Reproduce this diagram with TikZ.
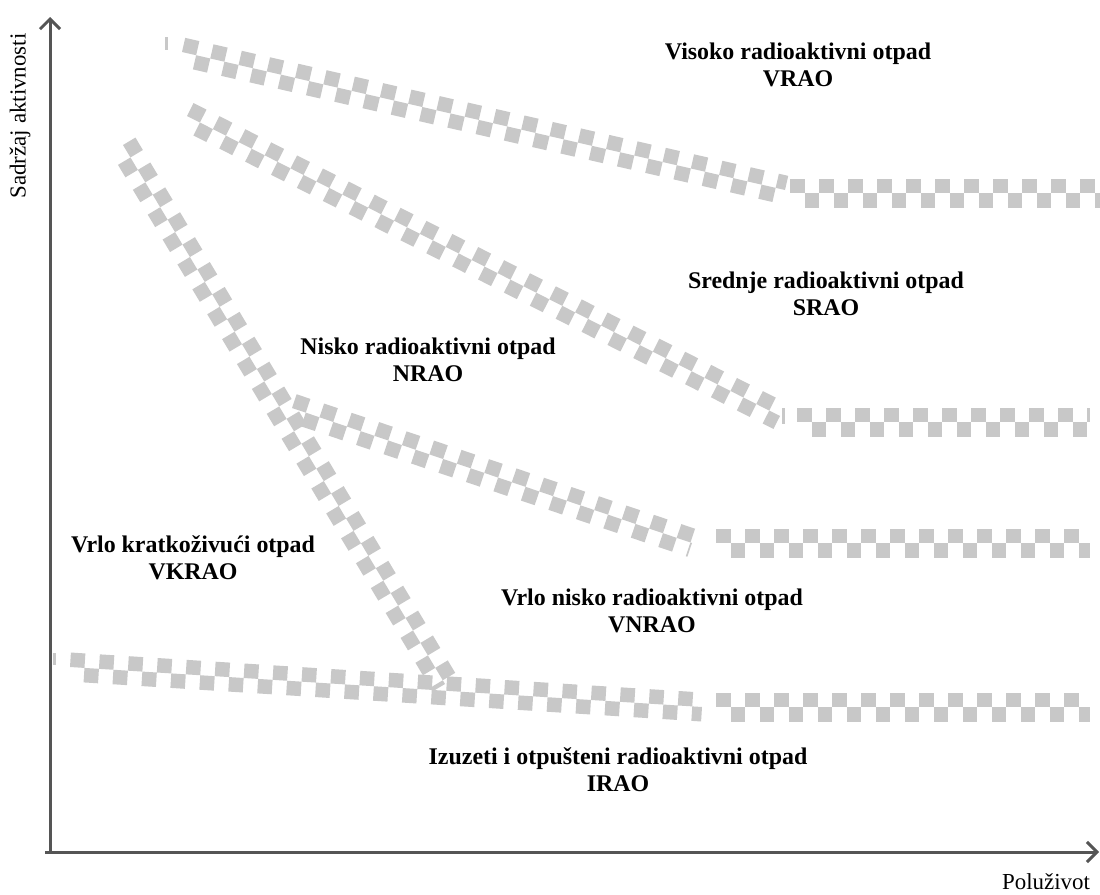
\documentclass[tikz,border=0pt]{standalone}
\usepackage{fontspec}
\setmainfont{Liberation Serif}
\usetikzlibrary{calc,arrows.meta}
\definecolor{bandgrey}{HTML}{C8C8C8}
\definecolor{axisgrey}{HTML}{555555}
\newcommand\cband[2]{%
  \draw[bandrow] ($(#1)!7.25bp!90:(#2)$) -- ($(#2)!7.25bp!-90:(#1)$);
  \draw[bandrow,dash phase=14.5bp] ($(#1)!7.25bp!-90:(#2)$) -- ($(#2)!7.25bp!90:(#1)$);}
\begin{document}
\begin{tikzpicture}[x=1bp,y=-1bp,
  bandrow/.style={draw=bandgrey,line width=14.5bp,dash pattern=on 14.5bp off 14.5bp},
  stub/.style={fill=bandgrey,draw=none},
  axis/.style={draw=axisgrey,line width=3bp,-{Straight Barb[length=10bp,width=20bp]}},
  lbl/.style={font=\fontsize{24}{27}\selectfont\bfseries,align=center,inner sep=0pt},
  axlbl/.style={font=\fontsize{23}{26}\selectfont,inner sep=0pt}]
\fill[white] (0,0) rectangle (1100,895);
\useasboundingbox (0,0) rectangle (1100,895);
% band coordinates
\coordinate (a1) at (182,52);  \coordinate (a2) at (785,190);
\coordinate (a3) at (790,193); \coordinate (a4) at (1100,193);
\coordinate (b1) at (187,116); \coordinate (b2) at (780,416);
\coordinate (b3) at (797,422); \coordinate (b4) at (1090,422);
\coordinate (c1) at (292,408); \coordinate (c2) at (692,543);
\coordinate (c3) at (716,543); \coordinate (c4) at (1090,543);
\coordinate (d1) at (123,145); \coordinate (d2) at (445,684);
\coordinate (e1) at (70,667);  \coordinate (e2) at (702,707);
\coordinate (e3) at (716,707); \coordinate (e4) at (1090,707);
\cband{a1}{a2}\cband{a3}{a4}
\cband{b1}{b2}\cband{b3}{b4}
\cband{c1}{c2}\cband{c3}{c4}
\cband{d1}{d2}
\cband{e1}{e2}\cband{e3}{e4}
\fill[stub] (165,37) rectangle (168,50);
\fill[stub] (53,653) rectangle (56,665);
\fill[stub] (782,408) rectangle (785,424);
% axes
\coordinate (o) at (50,853);
\coordinate (ytop) at (50,17);
\coordinate (xo) at (45,852);
\coordinate (xend) at (1099,852);
\draw[axis] (o) -- (ytop);
\draw[axis] (xo) -- (xend);
\node[axlbl,rotate=90] (ylab) at (20,116) {Sadržaj aktivnosti};
\node[axlbl] (xlab) at (1046,882) {Poluživot};
% labels
\node[lbl] (vrao) at (798,65) {Visoko radioaktivni otpad\\VRAO};
\node[lbl] (srao) at (826,294) {Srednje radioaktivni otpad\\SRAO};
\node[lbl] (nrao) at (428,360) {Nisko radioaktivni otpad\\NRAO};
\node[lbl] (vkrao) at (193,558) {Vrlo kratkoživući otpad\\VKRAO};
\node[lbl] (vnrao) at (652,611) {Vrlo nisko radioaktivni otpad\\VNRAO};
\node[lbl] (irao) at (618,770) {Izuzeti i otpušteni radioaktivni otpad\\IRAO};
\end{tikzpicture}
\end{document}
